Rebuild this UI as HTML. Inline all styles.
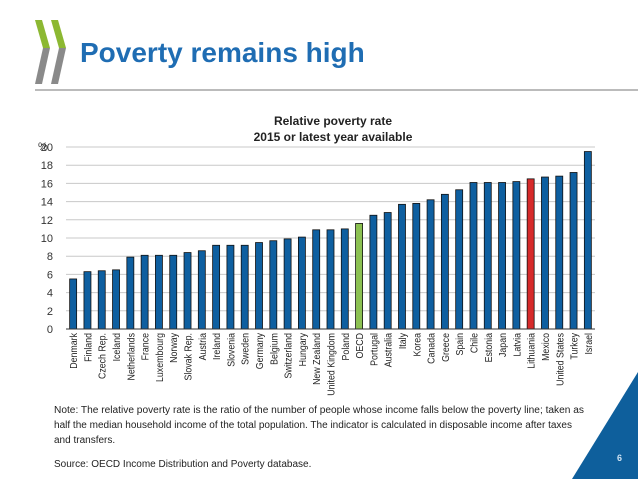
<!DOCTYPE html>
<html><head><meta charset="utf-8"><style>
body{margin:0;width:638px;height:479px;background:#fff;overflow:hidden;font-family:"Liberation Sans",sans-serif;position:relative}
</style></head><body>
<svg width="638" height="479" style="position:absolute;left:0;top:0">
<g>
<polygon points="35,20 42,20 50,48 43,48" fill="#8cb832"/>
<polygon points="43,48 50,48 42,84 35,84" fill="#8a8a8a"/>
<polygon points="51,20 58,20 66,48 59,48" fill="#8cb832"/>
<polygon points="59,48 66,48 58,84 51,84" fill="#8a8a8a"/>
</g>
<text x="80" y="62" font-size="28" font-weight="bold" fill="#1f6db3">Poverty remains high</text>
<line x1="35" y1="90" x2="638" y2="90" stroke="#777" stroke-width="1"/>
<text x="333" y="125" font-size="12" font-weight="bold" text-anchor="middle" fill="#222">Relative poverty rate</text>
<text x="333" y="141" font-size="12" font-weight="bold" text-anchor="middle" fill="#222">2015 or latest year available</text>
<text x="38" y="150" font-size="11" fill="#333">%</text>
<g id="chart"></g>
<g font-size="10" fill="#222">
<text x="54" y="413" textLength="530" lengthAdjust="spacingAndGlyphs">Note: The relative poverty rate is the ratio of the number of people whose income falls below the poverty line; taken as</text>
<text x="54" y="428" textLength="518" lengthAdjust="spacingAndGlyphs">half the median household income of the total population. The indicator is calculated in disposable income after taxes</text>
<text x="54" y="443">and transfers.</text>
<text x="54" y="467">Source: OECD Income Distribution and Poverty database.</text>
</g>
<polygon points="638,372 638,479 572,479" fill="#0e5f9c"/>
<text x="617" y="461" font-size="9" fill="#cfe3f3" font-weight="bold">6</text>
</svg>
<script>
const categories=["Denmark","Finland","Czech Rep.","Iceland","Netherlands","France","Luxembourg","Norway","Slovak Rep.","Austria","Ireland","Slovenia","Sweden","Germany","Belgium","Switzerland","Hungary","New Zealand","United Kingdom","Poland","OECD","Portugal","Australia","Italy","Korea","Canada","Greece","Spain","Chile","Estonia","Japan","Latvia","Lithuania","Mexico","United States","Turkey","Israel"];
const values=[5.5,6.3,6.4,6.5,7.9,8.1,8.1,8.1,8.4,8.6,9.2,9.2,9.2,9.5,9.7,9.9,10.1,10.9,10.9,11.0,11.6,12.5,12.8,13.7,13.8,14.2,14.8,15.3,16.1,16.1,16.1,16.2,16.5,16.7,16.8,17.2,19.5];
const yTicks=[0,2,4,6,8,10,12,14,16,18,20];
const NS="http://www.w3.org/2000/svg";
const g=document.getElementById('chart');
const x0=66,x1=595,yb=329,yt=147;
const y=v=>yb-(v/20)*(yb-yt);
const step=(x1-x0)/categories.length;
const xc=i=>x0+step*(i+0.5);
function mk(t,a){const e=document.createElementNS(NS,t);for(const k in a)e.setAttribute(k,a[k]);g.appendChild(e);return e;}
yTicks.forEach(v=>{
 if(v>0){const l=mk('line',{x1:x0,x2:x1,y1:y(v),y2:y(v),stroke:'#c8c8c8','stroke-width':1});
 
 }
 const t=mk('text',{x:53,y:y(v)+4,'font-size':11,'text-anchor':'end',fill:'#333'});
 t.textContent=v;
 
 
});
categories.forEach((c,i)=>{
 const col=c==='OECD'?'#8cc152':(c==='Lithuania'?'#d62a2a':'#0e5fa0');
 const r=mk('rect',{x:xc(i)-3.5,y:y(values[i]),width:7,height:yb-y(values[i]),fill:col,stroke:'#111','stroke-width':0.8});
 
 
 const t=mk('text',{x:0,y:0,'font-size':10.5,'text-anchor':'end',fill:'#222',transform:`translate(${xc(i)+4},333) rotate(-90) scale(0.84,1)`});
 t.textContent=c;
 
 
});
const ax=mk('line',{x1:x0,x2:x1,y1:yb,y2:yb,stroke:'#333','stroke-width':1});


</script>
</body></html>
